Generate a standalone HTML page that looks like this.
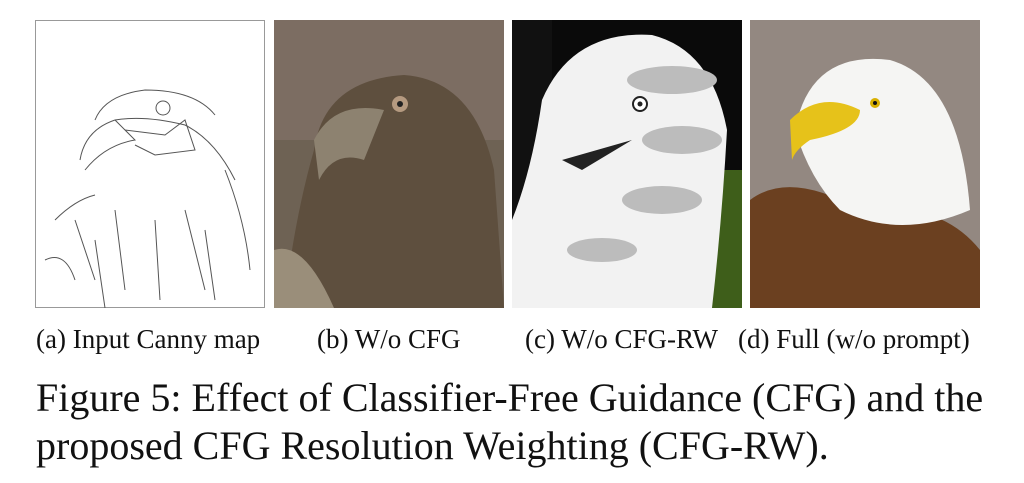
<!DOCTYPE html>
<html><head><meta charset="utf-8"><style>
body{margin:0;background:#fff;width:1024px;height:483px;overflow:hidden;position:relative;font-family:"Liberation Serif",serif;}
.p{position:absolute;top:20px;width:230px;height:288px;}
.cap{position:absolute;top:323px;font-size:27px;line-height:32px;color:#111;white-space:nowrap;}
.fig{position:absolute;left:36px;font-size:40px;line-height:46px;color:#111;white-space:nowrap;}
</style></head><body>
<svg class="p" style="left:35px" viewBox="0 0 230 288">
<rect x="0.5" y="0.5" width="229" height="287" fill="#fff" stroke="#999"/>
<g fill="none" stroke="#555" stroke-width="1">
<path d="M60 100 Q70 75 110 70 Q160 70 180 95"/>
<path d="M45 140 Q50 110 80 100 L100 120 Q70 125 50 150"/>
<path d="M80 100 Q110 95 150 105 Q180 120 200 160"/>
<path d="M20 200 Q40 180 60 175 M10 240 Q30 230 40 260 M190 150 Q210 200 215 250"/>
<path d="M90 110 L130 115 L150 100 L160 130 L120 135 L100 125"/>
<circle cx="128" cy="88" r="7"/>
<path d="M40 200 L60 260 M80 190 L90 270 M120 200 L125 280 M150 190 L170 270 M170 210 L180 280 M60 220 L70 288"/>
</g></svg>
<svg class="p" style="left:274px" viewBox="0 0 230 288">
<rect width="230" height="288" fill="#6e6254"/>
<rect width="230" height="120" fill="#7c6d62"/>
<path d="M40 130 Q50 60 130 55 Q200 60 220 150 L230 288 L10 288 Q20 200 40 130Z" fill="#5e4f3e"/>
<path d="M40 120 Q60 80 110 90 L90 140 Q60 130 45 160Z" fill="#8d8270"/>
<circle cx="126" cy="84" r="8" fill="#b59a80"/><circle cx="126" cy="84" r="3" fill="#222"/>
<path d="M0 230 Q30 220 60 288 L0 288Z" fill="#9a8e7a"/>
</svg>
<svg class="p" style="left:512px" viewBox="0 0 230 288">
<rect width="230" height="288" fill="#0a0a0a"/>
<rect x="150" y="150" width="80" height="138" fill="#3e5e1a"/>
<rect x="0" y="0" width="40" height="288" fill="#111"/>
<path d="M30 80 Q60 10 140 15 Q200 30 215 110 Q210 200 200 288 L0 288 L0 200 Q20 150 30 80Z" fill="#f2f2f2"/>
<g fill="#bcbcbc"><ellipse cx="160" cy="60" rx="45" ry="14"/><ellipse cx="170" cy="120" rx="40" ry="14"/><ellipse cx="150" cy="180" rx="40" ry="14"/><ellipse cx="90" cy="230" rx="35" ry="12"/></g>
<path d="M50 140 L120 120 L70 150Z" fill="#222"/>
<circle cx="128" cy="84" r="7" fill="#fff" stroke="#222" stroke-width="2"/><circle cx="128" cy="84" r="2.5" fill="#222"/>
</svg>
<svg class="p" style="left:750px" viewBox="0 0 230 288">
<rect width="230" height="288" fill="#8b7f77"/>
<rect width="230" height="288" fill="#a09590" opacity=".4"/>
<path d="M0 180 Q40 150 110 190 Q190 180 230 230 L230 288 L0 288Z" fill="#6b4020"/>
<path d="M45 110 Q60 30 140 40 Q210 60 220 190 Q150 220 90 190 Q60 160 45 110Z" fill="#f5f5f3"/>
<path d="M40 100 Q70 70 110 90 Q110 110 60 120 Q45 130 42 140Z" fill="#e6c21a"/>
<circle cx="125" cy="83" r="5" fill="#d9b000"/><circle cx="125" cy="83" r="2" fill="#111"/>
</svg>
<div class="cap" style="left:36px">(a) Input Canny map</div>
<div class="cap" style="left:317px">(b) W/o CFG</div>
<div class="cap" style="left:525px">(c) W/o CFG-RW</div>
<div class="cap" style="left:738px">(d) Full (w/o prompt)</div>
<div class="fig" style="top:375px">Figure 5: Effect of Classifier-Free Guidance (CFG) and the</div>
<div class="fig" style="top:423px">proposed CFG Resolution Weighting (CFG-RW).</div>
</body></html>
